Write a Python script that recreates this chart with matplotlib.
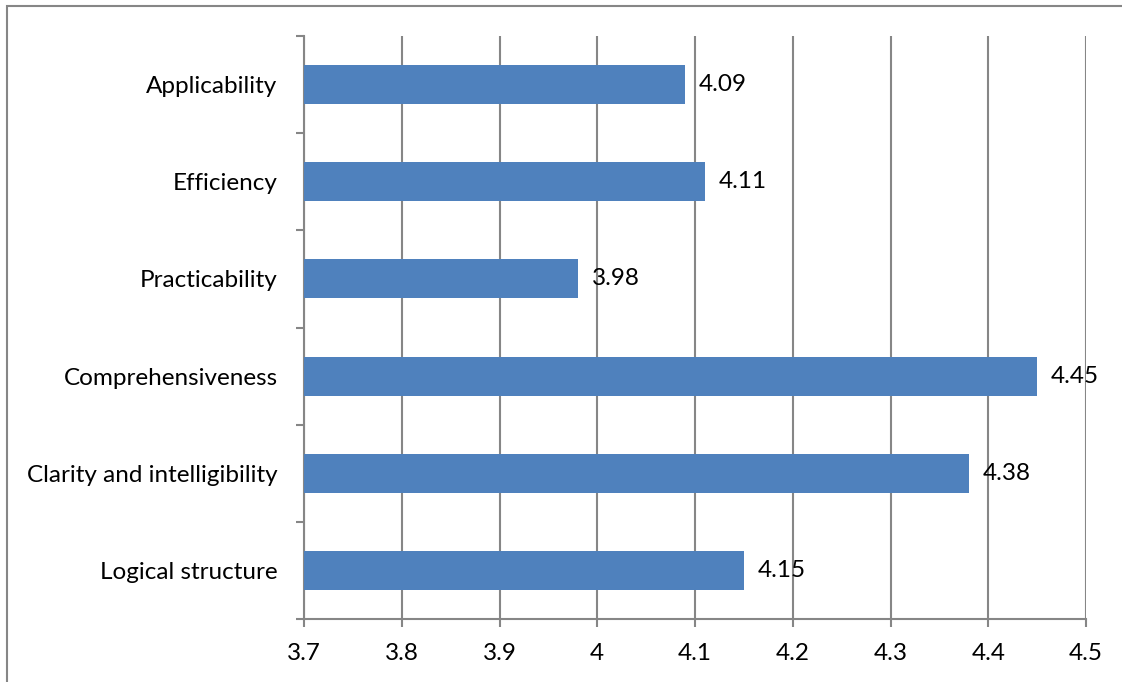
import numpy as np
import matplotlib.pyplot as plt
from matplotlib.patches import Rectangle

# data (bottom to top)
categories = ['Logical structure', 'Clarity and intelligibility', 'Comprehensiveness',
              'Practicability', 'Efficiency', 'Applicability']
values = [4.15, 4.38, 4.45, 3.98, 4.11, 4.09]
x_ticks = [3.7, 3.8, 3.9, 4.0, 4.1, 4.2, 4.3, 4.4, 4.5]
x_labels = ['3.7', '3.8', '3.9', '4', '4.1', '4.2', '4.3', '4.4', '4.5']

plt.rcParams['font.family'] = ['Lato', 'DejaVu Sans']
grey = '#868686'
fs = 17.5

fig = plt.figure(figsize=(11.22, 6.82), dpi=100)
# outer chart border
fig.patches.append(Rectangle((7/1122, -0.1), 1.2, 1 - 6/682 + 0.1, transform=fig.transFigure,
                             fill=False, edgecolor=grey, lw=1.5))
ax = fig.add_axes([304/1122, 1 - 619/682, 782/1122, 583/682])

y = np.arange(len(categories))
ax.barh(y, [v - 3.7 for v in values], left=3.7, height=0.4, color='#4F81BD', zorder=3)

for yi, v in zip(y, values):
    ax.annotate(f'{v:g}', (v, yi), xytext=(10, 0), textcoords='offset points',
                va='center', ha='left', fontsize=fs, zorder=4)

ax.set_xlim(3.7, 4.5)
ax.set_ylim(-0.5, len(categories) - 0.5)
ax.set_xticks(x_ticks)
ax.set_xticklabels(x_labels, fontsize=fs)
ax.set_yticks(y)
ax.set_yticklabels(categories, fontsize=fs)
ax.set_yticks(np.arange(-0.5, len(categories), 1), minor=True)
ax.tick_params(axis='y', which='major', length=0, pad=19)
ax.tick_params(axis='y', which='minor', length=6, width=1.5, color=grey)
ax.tick_params(axis='x', length=6, width=1.5, color=grey, pad=11)

ax.grid(axis='x', color=grey, lw=1.5, zorder=0)
for s in ['top', 'right']:
    ax.spines[s].set_visible(False)
for s in ['left', 'bottom']:
    ax.spines[s].set_color(grey)
    ax.spines[s].set_linewidth(1.5)

fig.savefig('out.png', dpi=100)
